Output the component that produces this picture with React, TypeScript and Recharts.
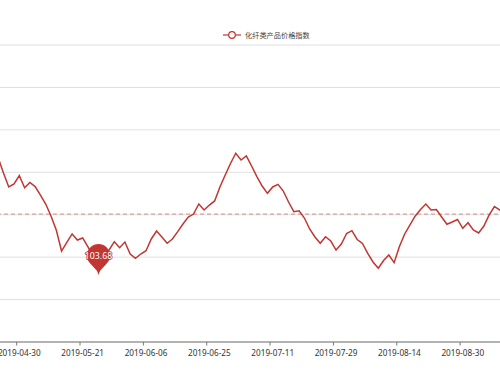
import { LineChart, Line, XAxis, YAxis, CartesianGrid, ReferenceLine, ReferenceDot } from 'recharts';

// trading days shown in the visible window
const dates = [
  '2019-04-24', '2019-04-25', '2019-04-26', '2019-04-29', '2019-04-30',
  '2019-05-06', '2019-05-07', '2019-05-08', '2019-05-09', '2019-05-10',
  '2019-05-13', '2019-05-14', '2019-05-15', '2019-05-16', '2019-05-17',
  '2019-05-20', '2019-05-21', '2019-05-22', '2019-05-23', '2019-05-24',
  '2019-05-27', '2019-05-28', '2019-05-29', '2019-05-30', '2019-05-31',
  '2019-06-03', '2019-06-04', '2019-06-05', '2019-06-06',
  '2019-06-10', '2019-06-11', '2019-06-12', '2019-06-13', '2019-06-14',
  '2019-06-17', '2019-06-18', '2019-06-19', '2019-06-20', '2019-06-21',
  '2019-06-24', '2019-06-25', '2019-06-26', '2019-06-27', '2019-06-28',
  '2019-07-01', '2019-07-02', '2019-07-03', '2019-07-04', '2019-07-05',
  '2019-07-08', '2019-07-09', '2019-07-10', '2019-07-11', '2019-07-12',
  '2019-07-15', '2019-07-16', '2019-07-17', '2019-07-18', '2019-07-19',
  '2019-07-22', '2019-07-23', '2019-07-24', '2019-07-25', '2019-07-26',
  '2019-07-29', '2019-07-30', '2019-07-31', '2019-08-01', '2019-08-02',
  '2019-08-05', '2019-08-06', '2019-08-07', '2019-08-08', '2019-08-09',
  '2019-08-12', '2019-08-13', '2019-08-14', '2019-08-15', '2019-08-16',
  '2019-08-19', '2019-08-20', '2019-08-21', '2019-08-22', '2019-08-23',
  '2019-08-26', '2019-08-27', '2019-08-28', '2019-08-29', '2019-08-30',
  '2019-09-02', '2019-09-03', '2019-09-04', '2019-09-05', '2019-09-06',
  '2019-09-09', '2019-09-10', '2019-09-11',
];

const indexValues = [
  117.18, 115.42, 113.77, 114.12, 115.1,
  113.68, 114.3, 113.82, 112.82, 111.76, 110.35, 108.7, 106.22, 107.23, 108.23,
  107.52, 107.76, 106.7, 105.63, 103.68, 105.4, 106.34, 107.32, 106.61, 107.28,
  105.87, 105.36, 105.87, 106.26, 107.64, 108.58, 107.87, 107.13, 107.64, 108.5,
  109.41, 110.23, 110.58, 111.76, 111.06, 111.64, 112.12, 113.77, 115.18,
  116.54, 117.74, 116.95, 117.42, 116.24, 115.0, 113.88, 113.02, 113.77, 114.08,
  113.29, 112.0, 110.86, 110.96, 110.11, 108.82, 107.87, 107.13, 107.91, 107.4,
  106.34, 107.05, 108.29,
  108.62, 107.58, 107.11, 105.95, 104.93, 104.19, 105.1, 105.75, 104.85, 106.75,
  108.23, 109.29, 110.35, 111.11, 111.76, 111.06, 111.11, 110.23, 109.37, 109.64,
  109.94, 108.9,
  109.56, 108.7, 108.35, 109.17, 110.47, 111.47, 111.06, 110.82,
];

const tickLabels = [
  '2019-04-30', '2019-05-21', '2019-06-06', '2019-06-25',
  '2019-07-11', '2019-07-29', '2019-08-14', '2019-08-30',
];

const yTicks = [95.5, 100.5, 105.5, 110.5, 115.5, 120.5, 125.5, 130.5];

// average of the whole series (part of it lies left of the visible window)
const avgValue = 110.58;

const seriesName = '化纤类产品价格指数';
const RED = '#c23531';

const data = dates.map((d, i) => ({ date: d, value: indexValues[i] }));

const minValue = Math.min(...indexValues);
const minDate = dates[indexValues.indexOf(minValue)];

const BAND = 5.28;

function DateTick(props: any) {
  const { x, y, payload } = props;
  if (!tickLabels.includes(payload.value)) return null;
  const axisY = y - 4;
  return (
    <g>
      <line x1={x - BAND / 2} x2={x - BAND / 2} y1={axisY} y2={axisY + 3.5} stroke="#777" />
      <text x={x} y={y + 10} textAnchor="middle" fontSize={8.2} fill="#333" fontFamily="'Noto Sans', sans-serif">
        {payload.value}
      </text>
    </g>
  );
}

function Pin(props: any) {
  const { cx, cy } = props;
  const r = 11.5;
  const c = cy - 17;
  const px = 8.48;
  const py = c + 7.77;
  return (
    <g>
      <path
        d={`M${cx},${cy} L${cx + px},${py} A${r},${r} 0 1 0 ${cx - px},${py} Z`}
        fill={RED}
      />
      <text
        x={cx}
        y={c + 3.2}
        textAnchor="middle"
        fontSize={8.8}
        fill="#fff"
        stroke={RED}
        strokeWidth={1.4}
        paintOrder="stroke"
        fontFamily="'Noto Sans', sans-serif"
      >
        {minValue.toFixed(2)}
      </text>
    </g>
  );
}

function SeriesLegend() {
  return (
    <div style={{ position: 'absolute', left: 223, top: 29, display: 'flex', alignItems: 'center' }}>
      <svg width={18} height={12}>
        <line x1={0} x2={18} y1={6} y2={6} stroke={RED} strokeWidth={1.2} />
        <circle cx={9} cy={6} r={3.3} fill="#fff" stroke={RED} strokeWidth={1.2} />
      </svg>
      <span style={{ marginLeft: 4, fontSize: 7.2, lineHeight: '12px', color: '#444', fontFamily: "'Noto Sans CJK SC', sans-serif" }}>
        {seriesName}
      </span>
    </div>
  );
}

export default function App() {
  return (
    <div style={{ position: 'absolute', left: 0, top: 0, width: 500, height: 375, overflow: 'hidden', background: '#fff' }}>
      <LineChart
        width={530}
        height={375}
        data={data}
        margin={{ top: 45, right: 15, bottom: 0, left: 0 }}
        style={{ position: 'absolute', left: -10, top: 0 }}
      >
        <CartesianGrid vertical={false} stroke="#e0e0e0" />
        <XAxis
          dataKey="date"
          height={33}
          interval={0}
          padding={{ left: 8.2, right: 0 }}
          axisLine={{ stroke: '#777' }}
          tickLine={false}
          tickSize={4}
          tickMargin={0}
          tick={<DateTick />}
        />
        <YAxis hide domain={[95.5, 130.5]} ticks={yTicks} />
        <ReferenceLine y={avgValue} stroke={RED} strokeOpacity={0.55} strokeDasharray="4 3" />
        <Line
          type="linear"
          dataKey="value"
          name={seriesName}
          stroke={RED}
          strokeWidth={1.5}
          dot={false}
          isAnimationActive={false}
        />
        <ReferenceDot x={minDate} y={minValue} r={0} shape={<Pin />} />
      </LineChart>
      <SeriesLegend />
    </div>
  );
}
